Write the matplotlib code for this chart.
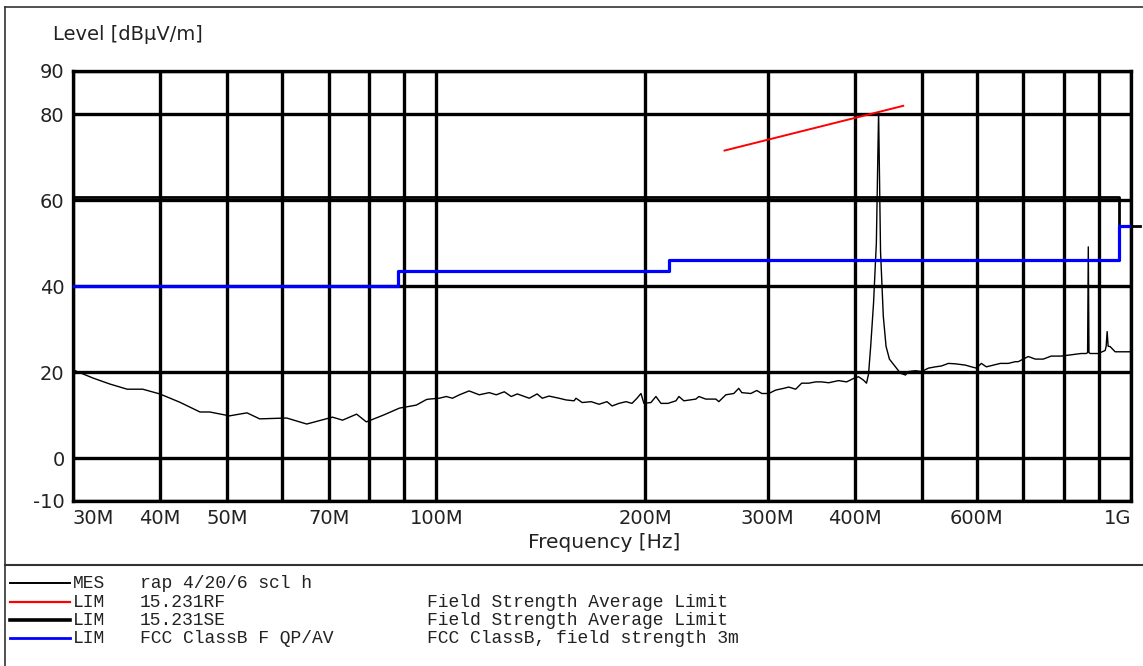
import matplotlib.pyplot as plt
from matplotlib.lines import Line2D

plt.rcParams['axes.unicode_minus'] = False

# measured trace (MHz, dBuV/m)
mes_freq = [30, 32.05, 33.9, 35.9, 37.8, 40.0, 42.7, 45.7, 47.2, 50.4, 53.4, 55.7,
            60.9, 65.1, 70.9, 73.3, 76.8, 79.3, 84.0, 88.5, 93.6, 96.8,
            97.7, 101.0, 103.4, 105.5, 108.0, 111.5, 115.3, 119.2, 122.0, 125.3,
            128.2, 130.8, 136.1, 139.7, 142.1, 145.3, 150.2, 153.8, 157.9, 158.9,
            162.2, 167.1, 171.5, 176.1, 179.1, 183.2, 187.6, 191.3, 194.5, 197.1,
            199.0, 203.7, 207.1, 210.6, 215.5, 221.3, 223.5, 227.2, 236.4, 238.8,
            244.3, 252.6, 255.1, 261.1, 268.1, 272.5, 275.3, 283.6, 289.3, 294.2,
            301.0, 308.1, 316.3, 321.6, 329.1, 335.7, 343.6, 351.7, 358.7, 367.1,
            379.4, 389.6, 398.7, 405.3, 412.1, 416.2, 419.0, 422.0, 426.0, 430.0,
            433.2, 436.0, 440.0, 444.0, 449.0, 458.1, 465.8, 473.6, 478.3, 489.5,
            499.4, 511.0, 523.0, 533.5, 546.0, 558.8, 577.6, 589.2, 599.0, 609.0,
            619.2, 633.6, 648.5, 665.9, 681.4, 688.2, 711.4, 728.2, 747.7, 767.6,
            793.5, 820.2, 847.7, 861.9, 866.0, 868.0, 870.0, 873.5, 897.0, 917.9,
            921.0, 924.0, 927.0, 933.3, 948.9, 980.6, 1000]
mes_level = [20.5, 18.6, 17.2, 16.0, 16.0, 14.9, 13.0, 10.7, 10.7, 9.8, 10.5, 9.1,
             9.3, 7.9, 9.5, 8.8, 10.2, 8.4, 10.0, 11.6, 12.3, 13.6,
             13.7, 13.9, 14.3, 13.9, 14.7, 15.6, 14.7, 15.2, 14.7, 15.4,
             14.3, 14.9, 13.9, 14.9, 13.9, 14.4, 13.9, 13.5, 13.3, 13.9,
             12.9, 13.1, 12.5, 13.1, 12.1, 12.7, 13.1, 12.7, 13.9, 15.0,
             12.7, 12.9, 14.3, 12.7, 12.7, 13.3, 14.3, 13.3, 13.7, 14.3,
             13.7, 13.7, 13.1, 14.7, 15.0, 16.2, 15.2, 15.0, 15.7, 15.0,
             15.0, 15.8, 16.2, 16.5, 16.0, 17.4, 17.4, 17.7, 17.7, 17.5,
             18.0, 17.7, 18.5, 18.9, 18.1, 17.4, 19.5, 26.0, 36.0, 50.0,
             80.5, 48.0, 33.0, 26.0, 23.0, 21.2, 19.7, 19.3, 20.1, 20.3,
             20.1, 20.9, 21.2, 21.4, 22.0, 21.9, 21.6, 21.2, 20.9, 22.0,
             21.2, 21.6, 22.0, 22.0, 22.4, 22.4, 23.6, 23.0, 23.0, 23.7,
             23.7, 24.0, 24.3, 24.3, 24.5, 49.1, 24.5, 24.3, 24.3, 25.0,
             26.0, 29.4, 26.0, 25.9, 24.7, 24.7, 24.7]

# 15.231 RF limit
rf_freq = [260, 470]
rf_level = [71.5, 81.9]

# 15.231 SE limit
se_freq = [30, 960, 960, 1030]
se_level = [60.8, 60.8, 54, 54]

# FCC Class B limit
fcc_freq = [30, 88, 88, 216, 216, 960, 960, 1000]
fcc_level = [40, 40, 43.5, 43.5, 46, 46, 54, 54]

grid_freq = [30, 40, 50, 60, 70, 80, 90, 100, 200, 300, 400, 500, 600, 700, 800, 900, 1000]
grid_labels = ['30M', '40M', '50M', '', '70M', '', '', '100M', '200M', '300M', '400M',
               '', '600M', '', '', '', '1G']
y_ticks = [-10, 0, 20, 40, 60, 80, 90]

legend_rows = [('MES', 'rap 4/20/6 scl h', ''),
               ('LIM', '15.231RF', 'Field Strength Average Limit'),
               ('LIM', '15.231SE', 'Field Strength Average Limit'),
               ('LIM', 'FCC ClassB F QP/AV', 'FCC ClassB, field strength 3m')]
legend_colors = ['black', 'red', 'black', 'blue']
legend_widths = [1.4, 1.6, 2.6, 2.0]

W, H = 1143, 666
fig = plt.figure(figsize=(W / 100, H / 100), dpi=100)
ax = fig.add_axes([73 / W, 1 - 501 / H, (1131 - 73) / W, (501 - 71) / H])

ax.plot(mes_freq, mes_level, color='black', lw=1.0, zorder=3)
ax.plot(rf_freq, rf_level, color='red', lw=1.4, zorder=4)
ax.plot(se_freq, se_level, color='black', lw=2.0, zorder=4, clip_on=False)
ax.plot(fcc_freq, fcc_level, color='blue', lw=2.3, zorder=5)

ax.set_xscale('log')
ax.set_xlim(30, 1000)
ax.set_ylim(-10, 90)
ax.minorticks_off()
ax.set_xticks(grid_freq, grid_labels)
ax.set_yticks(y_ticks)
ax.tick_params(length=0, labelsize=14, pad=6, labelcolor='#222222')
labs = ax.get_xticklabels()
labs[0].set_ha('left')
labs[-1].set_ha('right')
ax.grid(True, color='black', lw=2.4)
ax.set_axisbelow(True)
for s in ax.spines.values():
    s.set_linewidth(2.4)

fig.text(53 / W, 1 - 35 / H, 'Level [dBµV/m]', fontsize=14, ha='left', va='center', color='#222222')
fig.text(604 / W, 1 - 543 / H, 'Frequency [Hz]', fontsize=14.5, ha='center', va='center', color='#222222')

# outer frame and separator
fig.add_artist(Line2D([5 / W, 5 / W], [0, 1 - 7 / H], color='#333333', lw=1.2))
fig.add_artist(Line2D([5 / W, 1], [1 - 7 / H, 1 - 7 / H], color='#333333', lw=1.2))
fig.add_artist(Line2D([5 / W, 1], [1 - 565 / H, 1 - 565 / H], color='#333333', lw=1.5))

# legend block
row_y = [583, 602, 620, 638]
col_x = [73, 140, 427]
for i, row in enumerate(legend_rows):
    y = 1 - row_y[i] / H
    fig.add_artist(Line2D([10 / W, 70 / W], [y, y], color=legend_colors[i], lw=legend_widths[i]))
    for x0, s in zip(col_x, row):
        if s:
            fig.text(x0 / W, 1 - (row_y[i] + 5) / H, s, family='Liberation Mono', fontsize=13,
                     va='baseline', color='#222222')

fig.savefig('out.png', dpi=100)
